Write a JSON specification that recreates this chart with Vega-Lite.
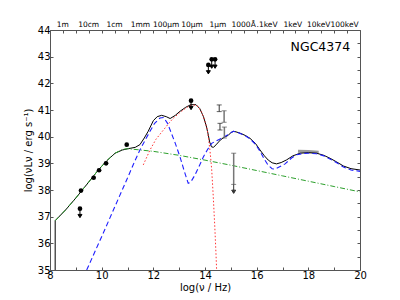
{
  "$schema": "https://vega.github.io/schema/vega-lite/v6.json",
  "width": 310,
  "height": 240,
  "autosize": "none",
  "padding": {"left": 50, "top": 30, "right": 40, "bottom": 30},
  "background": "white",
  "config": {"view": {"stroke": null}, "font": "DejaVu Sans"},
  "datasets": {
    "total": [
      {"x": 8.2, "y": 35.0}, {"x": 8.201, "y": 36.85}, {"x": 8.6, "y": 37.25}, {"x": 9.0, "y": 37.7}, {"x": 9.2, "y": 37.94},
      {"x": 9.5, "y": 38.3}, {"x": 9.87, "y": 38.75}, {"x": 10.2, "y": 39.1}, {"x": 10.52, "y": 39.38}, {"x": 10.8, "y": 39.5},
      {"x": 11.03, "y": 39.55}, {"x": 11.3, "y": 39.6}, {"x": 11.48, "y": 39.7}, {"x": 11.65, "y": 39.95}, {"x": 11.8, "y": 40.2},
      {"x": 12.0, "y": 40.6}, {"x": 12.15, "y": 40.75}, {"x": 12.32, "y": 40.8}, {"x": 12.5, "y": 40.75}, {"x": 12.65, "y": 40.68},
      {"x": 12.85, "y": 40.8}, {"x": 13.03, "y": 40.95}, {"x": 13.25, "y": 41.1}, {"x": 13.45, "y": 41.2}, {"x": 13.65, "y": 41.2},
      {"x": 13.8, "y": 41.05}, {"x": 13.94, "y": 40.75}, {"x": 14.05, "y": 40.4}, {"x": 14.12, "y": 40.1}, {"x": 14.18, "y": 39.8},
      {"x": 14.25, "y": 39.62}, {"x": 14.33, "y": 39.6}, {"x": 14.45, "y": 39.72}, {"x": 14.6, "y": 39.88}, {"x": 14.75, "y": 39.98},
      {"x": 14.9, "y": 40.05}, {"x": 15.0, "y": 40.15}, {"x": 15.1, "y": 40.2}, {"x": 15.2, "y": 40.18}, {"x": 15.36, "y": 40.13},
      {"x": 15.55, "y": 40.05}, {"x": 15.74, "y": 39.94}, {"x": 15.95, "y": 39.75}, {"x": 16.13, "y": 39.5}, {"x": 16.3, "y": 39.28},
      {"x": 16.45, "y": 39.12}, {"x": 16.6, "y": 39.02}, {"x": 16.77, "y": 38.98}, {"x": 16.95, "y": 39.03}, {"x": 17.16, "y": 39.13},
      {"x": 17.4, "y": 39.28}, {"x": 17.68, "y": 39.38}, {"x": 18.0, "y": 39.4}, {"x": 18.32, "y": 39.38}, {"x": 18.6, "y": 39.3},
      {"x": 18.84, "y": 39.19}, {"x": 19.1, "y": 39.05}, {"x": 19.36, "y": 38.9}, {"x": 19.65, "y": 38.8}, {"x": 20.0, "y": 38.75}
    ],
    "blue": [
      {"x": 9.42, "y": 35.0}, {"x": 10.0, "y": 36.25}, {"x": 10.5, "y": 37.35}, {"x": 11.0, "y": 38.45}, {"x": 11.29, "y": 39.1},
      {"x": 11.48, "y": 39.5}, {"x": 11.7, "y": 39.9}, {"x": 11.87, "y": 40.2}, {"x": 12.05, "y": 40.5}, {"x": 12.26, "y": 40.7},
      {"x": 12.4, "y": 40.72}, {"x": 12.55, "y": 40.5}, {"x": 12.65, "y": 40.25}, {"x": 12.85, "y": 39.75}, {"x": 13.03, "y": 39.25},
      {"x": 13.2, "y": 38.7}, {"x": 13.35, "y": 38.25}, {"x": 13.45, "y": 38.3}, {"x": 13.61, "y": 38.56}, {"x": 13.8, "y": 38.95},
      {"x": 13.94, "y": 39.25}, {"x": 14.1, "y": 39.52}, {"x": 14.26, "y": 39.75}, {"x": 14.45, "y": 39.85}, {"x": 14.65, "y": 39.94},
      {"x": 14.85, "y": 40.05}, {"x": 15.0, "y": 40.15}, {"x": 15.1, "y": 40.2}, {"x": 15.2, "y": 40.18}, {"x": 15.36, "y": 40.12},
      {"x": 15.55, "y": 40.04}, {"x": 15.74, "y": 39.92}, {"x": 15.95, "y": 39.72}, {"x": 16.13, "y": 39.45}, {"x": 16.3, "y": 39.15},
      {"x": 16.45, "y": 38.92}, {"x": 16.6, "y": 38.8}, {"x": 16.71, "y": 38.78}, {"x": 16.85, "y": 38.85}, {"x": 17.1, "y": 38.98},
      {"x": 17.35, "y": 39.2}, {"x": 17.55, "y": 39.32}, {"x": 17.8, "y": 39.37}, {"x": 18.0, "y": 39.38}, {"x": 18.32, "y": 39.36},
      {"x": 18.6, "y": 39.28}, {"x": 18.84, "y": 39.16}, {"x": 19.1, "y": 39.02}, {"x": 19.36, "y": 38.86}, {"x": 19.65, "y": 38.75},
      {"x": 20.0, "y": 38.7}
    ],
    "red": [
      {"x": 11.61, "y": 38.94}, {"x": 11.87, "y": 39.5}, {"x": 12.1, "y": 39.9}, {"x": 12.39, "y": 40.25}, {"x": 12.6, "y": 40.5},
      {"x": 12.77, "y": 40.69}, {"x": 13.0, "y": 40.88}, {"x": 13.16, "y": 41.0}, {"x": 13.35, "y": 41.13}, {"x": 13.48, "y": 41.19},
      {"x": 13.62, "y": 41.18}, {"x": 13.74, "y": 41.13}, {"x": 13.85, "y": 40.95}, {"x": 13.94, "y": 40.75}, {"x": 14.02, "y": 40.5},
      {"x": 14.09, "y": 40.25}, {"x": 14.14, "y": 39.9}, {"x": 14.19, "y": 39.5}, {"x": 14.23, "y": 39.1}, {"x": 14.26, "y": 38.75},
      {"x": 14.32, "y": 37.75}, {"x": 14.38, "y": 36.6}, {"x": 14.43, "y": 35.5}, {"x": 14.45, "y": 35.0}
    ],
    "green": [
      {"x": 8.2, "y": 36.85}, {"x": 8.6, "y": 37.25}, {"x": 9.0, "y": 37.7}, {"x": 9.5, "y": 38.3}, {"x": 9.87, "y": 38.75},
      {"x": 10.2, "y": 39.1}, {"x": 10.52, "y": 39.38}, {"x": 10.8, "y": 39.52}, {"x": 11.0, "y": 39.55}, {"x": 12.0, "y": 39.45},
      {"x": 13.0, "y": 39.3}, {"x": 14.0, "y": 39.12}, {"x": 15.0, "y": 38.93}, {"x": 16.0, "y": 38.73}, {"x": 17.0, "y": 38.53},
      {"x": 18.0, "y": 38.33}, {"x": 19.0, "y": 38.13}, {"x": 20.0, "y": 37.93}
    ],
    "xray": [{"x": 17.6, "y": 39.45}, {"x": 18.0, "y": 39.44}, {"x": 18.4, "y": 39.42}],
    "det": [
      {"x": 9.2, "y": 37.98}, {"x": 9.69, "y": 38.46}, {"x": 9.9, "y": 38.74}, {"x": 10.17, "y": 39.0}, {"x": 10.97, "y": 39.7}
    ],
    "lim": [
      {"x": 9.16, "y": 37.3}, {"x": 13.46, "y": 41.35}, {"x": 14.13, "y": 42.69}, {"x": 14.26, "y": 42.9}, {"x": 14.39, "y": 42.9}
    ],
    "errA": [{"x": 14.55, "lo": 40.94, "hi": 41.19}, {"x": 14.58, "lo": 40.25, "hi": 40.5}],
    "errB": [{"x": 14.74, "lo": 40.54, "hi": 40.97}, {"x": 14.75, "lo": 39.95, "hi": 40.36}, {"x": 15.11, "lo": 38.21, "hi": 39.38}],
    "errlim": [{"x": 15.11, "y": 38.21}],
    "label": [{"x": 19.62, "y": 43.37, "name": "NGC4374"}]
  },
  "resolve": {"axis": {"x": "independent", "y": "independent"}},
  "layer": [
    {
      "data": {"name": "xray"},
      "mark": {"type": "line", "color": "#999999", "strokeWidth": 3},
      "encoding": {
        "x": {"field": "x", "type": "quantitative", "scale": {"domain": [8, 20], "nice": false, "zero": false}, "axis": null},
        "y": {"field": "y", "type": "quantitative", "scale": {"domain": [35, 44], "nice": false, "zero": false}, "axis": null}
      }
    },
    {
      "data": {"name": "total"},
      "mark": {"type": "line", "color": "#000000", "strokeWidth": 1},
      "encoding": {
        "x": {"field": "x", "type": "quantitative", "scale": {"domain": [8, 20], "nice": false, "zero": false},
          "axis": {"orient": "bottom", "values": [8,8.5,9,9.5,10,10.5,11,11.5,12,12.5,13,13.5,14,14.5,15,15.5,16,16.5,17,17.5,18,18.5,19,19.5,20],
            "labelExpr": "datum.value % 2 === 0 ? datum.label : ''", "format": "d",
            "tickSize": -3, "tickColor": "#555555", "domainColor": "#555555", "grid": false,
            "labelFont": "DejaVu Sans", "labelFontSize": 10, "labelColor": "#000000", "labelPadding": 3,
            "labelFlush": false, "labelOverlap": false, "labelBound": false,
            "title": "log(ν / Hz)", "titleFont": "DejaVu Sans", "titleFontSize": 10, "titleFontWeight": "normal", "titleColor": "#000000", "titlePadding": 2}},
        "y": {"field": "y", "type": "quantitative", "scale": {"domain": [35, 44], "nice": false, "zero": false},
          "axis": {"orient": "left", "values": [35,35.5,36,36.5,37,37.5,38,38.5,39,39.5,40,40.5,41,41.5,42,42.5,43,43.5,44],
            "labelExpr": "datum.value % 1 === 0 ? datum.label : ''", "format": "d",
            "tickSize": -3, "tickColor": "#555555", "domainColor": "#555555", "grid": false,
            "labelFont": "DejaVu Sans", "labelFontSize": 10, "labelColor": "#000000", "labelPadding": 3,
            "labelFlush": false, "labelOverlap": false, "labelBound": false,
            "title": "log(νLν / erg s⁻¹)", "titleFont": "DejaVu Sans", "titleFontSize": 10, "titleFontWeight": "normal", "titleColor": "#000000", "titlePadding": 4}}
      }
    },
    {
      "data": {"name": "green"},
      "mark": {"type": "line", "color": "#2ca02c", "strokeWidth": 1, "strokeDash": [5, 2, 1, 2]},
      "encoding": {
        "x": {"field": "x", "type": "quantitative", "scale": {"domain": [8, 20], "nice": false, "zero": false},
          "axis": {"orient": "top", "values": [8.477,9.477,10.477,11.477,12.477,13.477,14.477,15.477,16.383,17.383,18.383,19.383],
            "labelExpr": "datum.value < 9 ? '1m' : datum.value < 10 ? '10cm' : datum.value < 11 ? '1cm' : datum.value < 12 ? '1mm' : datum.value < 13 ? '100μm' : datum.value < 14 ? '10μm' : datum.value < 15 ? '1μm' : datum.value < 16 ? '1000Å' : datum.value < 17 ? '.1keV' : datum.value < 18 ? '1keV' : datum.value < 19 ? '10keV' : '100keV'",
            "ticks": false, "domain": false, "grid": false,
            "labelFont": "DejaVu Sans", "labelFontSize": 7.5, "labelColor": "#000000", "labelPadding": 2,
            "labelFlush": false, "labelOverlap": false, "labelBound": false, "title": null}},
        "y": {"field": "y", "type": "quantitative", "scale": {"domain": [35, 44], "nice": false, "zero": false}, "axis": null}
      }
    },
    {
      "data": {"name": "red"},
      "mark": {"type": "line", "color": "#ff3333", "strokeWidth": 1, "strokeDash": [1.5, 2]},
      "encoding": {
        "x": {"field": "x", "type": "quantitative", "scale": {"domain": [8, 20], "nice": false, "zero": false},
          "axis": {"orient": "top", "values": [8,8.5,9,9.5,10,10.5,11,11.5,12,12.5,13,13.5,14,14.5,15,15.5,16,16.5,17,17.5,18,18.5,19,19.5,20],
            "labels": false, "tickSize": -3, "tickColor": "#555555", "domainColor": "#555555", "grid": false, "title": null}},
        "y": {"field": "y", "type": "quantitative", "scale": {"domain": [35, 44], "nice": false, "zero": false},
          "axis": {"orient": "right", "values": [35,35.5,36,36.5,37,37.5,38,38.5,39,39.5,40,40.5,41,41.5,42,42.5,43,43.5,44],
            "labels": false, "tickSize": -3, "tickColor": "#555555", "domainColor": "#555555", "grid": false, "title": null}}
      }
    },
    {
      "data": {"name": "blue"},
      "mark": {"type": "line", "color": "#1f1fff", "strokeWidth": 1.1, "strokeDash": [5, 3]},
      "encoding": {
        "x": {"field": "x", "type": "quantitative", "scale": {"domain": [8, 20], "nice": false, "zero": false}, "axis": null},
        "y": {"field": "y", "type": "quantitative", "scale": {"domain": [35, 44], "nice": false, "zero": false}, "axis": null}
      }
    },
    {
      "data": {"name": "errA"},
      "mark": {"type": "rule", "color": "#333333", "strokeWidth": 1},
      "encoding": {
        "x": {"field": "x", "type": "quantitative", "scale": {"domain": [8, 20], "nice": false, "zero": false}, "axis": null},
        "y": {"field": "lo", "type": "quantitative", "scale": {"domain": [35, 44], "nice": false, "zero": false}, "axis": null},
        "y2": {"field": "hi"}
      }
    },
    {
      "data": {"name": "errA"},
      "mark": {"type": "tick", "orient": "horizontal", "color": "#222222", "size": 5, "thickness": 1},
      "encoding": {
        "x": {"field": "x", "type": "quantitative", "scale": {"domain": [8, 20], "nice": false, "zero": false}, "axis": null},
        "y": {"field": "lo", "type": "quantitative", "scale": {"domain": [35, 44], "nice": false, "zero": false}, "axis": null}
      }
    },
    {
      "data": {"name": "errA"},
      "mark": {"type": "tick", "orient": "horizontal", "color": "#222222", "size": 5, "thickness": 1},
      "encoding": {
        "x": {"field": "x", "type": "quantitative", "scale": {"domain": [8, 20], "nice": false, "zero": false}, "axis": null},
        "y": {"field": "hi", "type": "quantitative", "scale": {"domain": [35, 44], "nice": false, "zero": false}, "axis": null}
      }
    },
    {
      "data": {"name": "errB"},
      "mark": {"type": "rule", "color": "#777777", "strokeWidth": 1.5},
      "encoding": {
        "x": {"field": "x", "type": "quantitative", "scale": {"domain": [8, 20], "nice": false, "zero": false}, "axis": null},
        "y": {"field": "lo", "type": "quantitative", "scale": {"domain": [35, 44], "nice": false, "zero": false}, "axis": null},
        "y2": {"field": "hi"}
      }
    },
    {
      "data": {"name": "errB"},
      "mark": {"type": "tick", "orient": "horizontal", "color": "#555555", "size": 5, "thickness": 1},
      "encoding": {
        "x": {"field": "x", "type": "quantitative", "scale": {"domain": [8, 20], "nice": false, "zero": false}, "axis": null},
        "y": {"field": "lo", "type": "quantitative", "scale": {"domain": [35, 44], "nice": false, "zero": false}, "axis": null}
      }
    },
    {
      "data": {"name": "errB"},
      "mark": {"type": "tick", "orient": "horizontal", "color": "#555555", "size": 5, "thickness": 1},
      "encoding": {
        "x": {"field": "x", "type": "quantitative", "scale": {"domain": [8, 20], "nice": false, "zero": false}, "axis": null},
        "y": {"field": "hi", "type": "quantitative", "scale": {"domain": [35, 44], "nice": false, "zero": false}, "axis": null}
      }
    },
    {
      "data": {"name": "errlim"},
      "mark": {"type": "point", "shape": "M0,0V1.3M-0.4,1.15L0,1.8L0.4,1.15Z", "size": 100, "filled": true, "color": "#333333", "stroke": "#333333", "strokeWidth": 1, "opacity": 1},
      "encoding": {
        "x": {"field": "x", "type": "quantitative", "scale": {"domain": [8, 20], "nice": false, "zero": false}, "axis": null},
        "y": {"field": "y", "type": "quantitative", "scale": {"domain": [35, 44], "nice": false, "zero": false}, "axis": null}
      }
    },
    {
      "data": {"name": "lim"},
      "mark": {"type": "point", "shape": "M0,0V1.3M-0.4,1.15L0,1.8L0.4,1.15Z", "size": 100, "filled": true, "color": "#000000", "stroke": "#000000", "strokeWidth": 1, "opacity": 1},
      "encoding": {
        "x": {"field": "x", "type": "quantitative", "scale": {"domain": [8, 20], "nice": false, "zero": false}, "axis": null},
        "y": {"field": "y", "type": "quantitative", "scale": {"domain": [35, 44], "nice": false, "zero": false}, "axis": null}
      }
    },
    {
      "data": {"name": "lim"},
      "mark": {"type": "point", "shape": "circle", "size": 22, "filled": true, "color": "#000000", "opacity": 1},
      "encoding": {
        "x": {"field": "x", "type": "quantitative", "scale": {"domain": [8, 20], "nice": false, "zero": false}, "axis": null},
        "y": {"field": "y", "type": "quantitative", "scale": {"domain": [35, 44], "nice": false, "zero": false}, "axis": null}
      }
    },
    {
      "data": {"name": "det"},
      "mark": {"type": "point", "shape": "circle", "size": 22, "filled": true, "color": "#000000", "opacity": 1},
      "encoding": {
        "x": {"field": "x", "type": "quantitative", "scale": {"domain": [8, 20], "nice": false, "zero": false}, "axis": null},
        "y": {"field": "y", "type": "quantitative", "scale": {"domain": [35, 44], "nice": false, "zero": false}, "axis": null}
      }
    },
    {
      "data": {"name": "label"},
      "mark": {"type": "text", "align": "right", "baseline": "middle", "font": "DejaVu Sans", "fontSize": 12.5, "color": "#000000"},
      "encoding": {
        "x": {"field": "x", "type": "quantitative", "scale": {"domain": [8, 20], "nice": false, "zero": false}, "axis": null},
        "y": {"field": "y", "type": "quantitative", "scale": {"domain": [35, 44], "nice": false, "zero": false}, "axis": null},
        "text": {"field": "name"}
      }
    }
  ]
}
